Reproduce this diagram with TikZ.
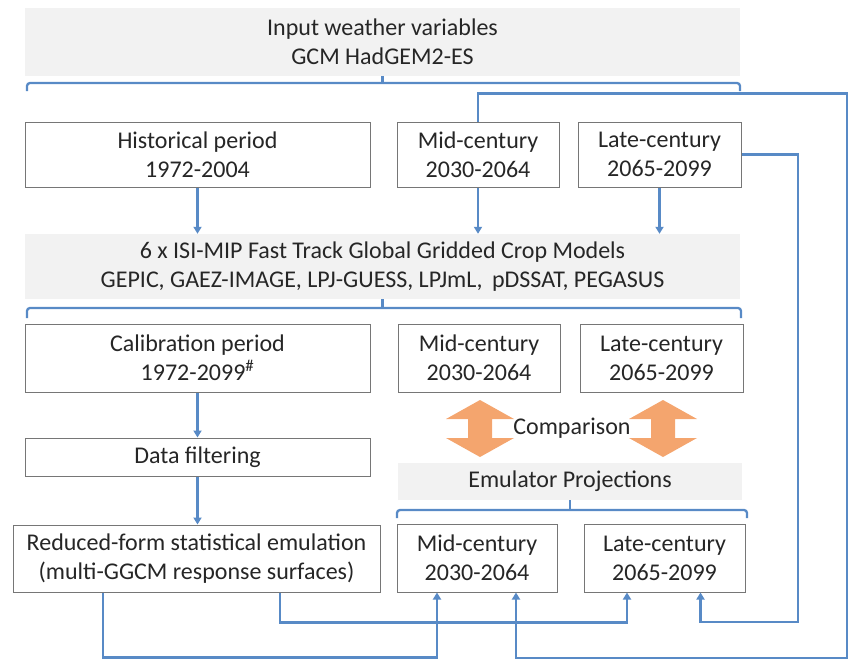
\documentclass[tikz,border=0pt]{standalone}
\usepackage{fontspec}
\setmainfont{Carlito}
\usepackage{tikz}
\usetikzlibrary{arrows.meta}
\definecolor{bandgray}{RGB}{242,242,242}
\definecolor{boxgray}{RGB}{118,118,118}
\definecolor{wireblue}{RGB}{88,138,198}
\definecolor{swaporange}{RGB}{244,165,110}
\definecolor{inkgray}{RGB}{38,38,38}

\begin{document}
\begin{tikzpicture}[x=1pt,y=-1pt,font=\fontsize{24}{29}\selectfont,text=inkgray]
\tikzstyle{box}=[rectangle,align=center,draw=boxgray,line width=1pt,fill=white,inner sep=0pt]
\tikzstyle{band}=[rectangle,align=center,fill=bandgray,inner sep=0pt]
\tikzstyle{wire}=[draw=wireblue,line width=2.3pt]
\tikzstyle{feed}=[wire,-{Triangle[width=8pt,length=7pt]}]
\tikzstyle{bracket}=[wire,rounded corners=3pt]
\useasboundingbox (0,0) rectangle (850,661);

% climate input
\node[band,minimum width=715pt,minimum height=68pt] at(382.5,42) (inp) {Input weather variables\\GCM HadGEM2-ES};
\node[box,minimum width=345pt,minimum height=65pt] at(197.5,154.5) (hist) {Historical period\\1972-2004};
\node[box,minimum width=162pt,minimum height=65pt] at(478,154.5) (mid1) {Mid-century\\2030-2064};
\node[box,minimum width=163pt,minimum height=65pt] at(659.5,154.5) (late1) {Late-century\\2065-2099};

% crop models
\node[band,minimum width=715pt,minimum height=65pt] at(382.5,266.5) (ggcm) {6 x ISI-MIP Fast Track Global Gridded Crop Models\\GEPIC, GAEZ-IMAGE, LPJ-GUESS, LPJmL,\, pDSSAT, PEGASUS};
\node[box,minimum width=345pt,minimum height=68pt] at(197.5,358) (calib) {Calibration period\\1972-2099\textsuperscript{\#}};
\node[box,minimum width=162pt,minimum height=68pt] at(479,358) (mid2) {Mid-century\\2030-2064};
\node[box,minimum width=163pt,minimum height=68pt] at(661.5,358) (late2) {Late-century\\2065-2099};

% emulator
\node[box,minimum width=345pt,minimum height=38pt] at(197.5,457) (filt) {Data filtering};
\node[box,minimum width=367pt,minimum height=67pt] at(196.5,558.5) (emul) {Reduced-form statistical emulation\\(multi-GGCM response surfaces)};
\node[band,minimum width=344pt,minimum height=37pt] at(570,481.5) (proj) {Emulator Projections};
\node[box,minimum width=160pt,minimum height=68pt] at(477,558) (mid3) {Mid-century\\2030-2064};
\node[box,minimum width=161pt,minimum height=68pt] at(664.5,558) (late3) {Late-century\\2065-2099};

% comparison arrows
\foreach \cx in {480,663}
  \fill[swaporange] (\cx,400) -- (\cx+34,419) -- (\cx+12,419) -- (\cx+12,438) -- (\cx+34,438) -- (\cx,457)
    -- (\cx-34,438) -- (\cx-12,438) -- (\cx-12,419) -- (\cx-34,419) -- cycle;
\node at(572,428) (cmp) {Comparison};

% brackets
\draw[bracket] (27,91) -- (27,83) -- (740,83) -- (740,91);
\draw[wire] (inp.south) -- (inp.south |- 0,83);
\draw[bracket] (27,318) -- (27,308) -- (741,308) -- (741,318);
\draw[wire] (ggcm.south) -- (ggcm.south |- 0,308);
\draw[bracket] (397,518) -- (397,510) -- (747,510) -- (747,518);
\draw[wire] (proj.south) -- (proj.south |- 0,510);

% flows
\draw[feed] (hist.south) -- (hist.south |- ggcm.north);
\draw[feed] (mid1.south) -- (mid1.south |- ggcm.north);
\draw[feed] (late1.south) -- (late1.south |- ggcm.north);
\draw[feed] (calib) -- (filt);
\draw[feed] (filt.south) -- (filt.south |- emul.north);

\coordinate (rimA) at (847,658);
\coordinate (rimB) at (798,622);
\draw[feed] (mid1.north) -- ++(0,-28) -| (rimA) -| ([xshift=39pt]mid3.south);
\draw[feed] (late1.east) -| (rimB) -| ([xshift=36pt]late3.south);
\draw[feed] ([xshift=-93.5pt]emul.south) -- ++(0,65) -| ([xshift=-40pt]mid3.south);
\draw[feed] ([xshift=83.5pt]emul.south) -- ++(0,30) -| ([xshift=-37.5pt]late3.south);
\end{tikzpicture}
\end{document}
